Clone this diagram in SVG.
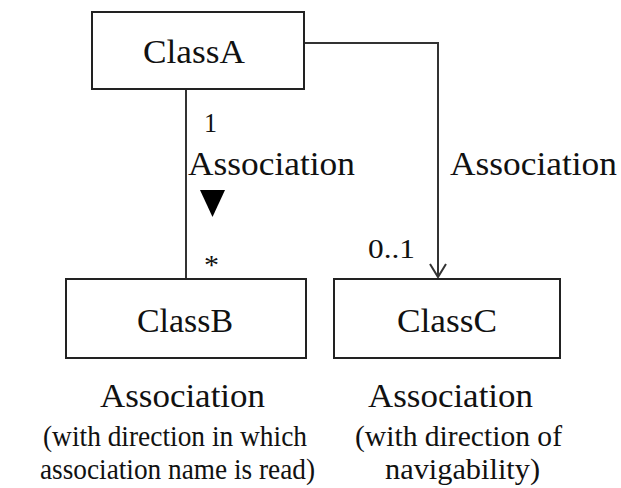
<svg xmlns="http://www.w3.org/2000/svg" width="621" height="488" viewBox="0 0 621 488">
  <style>
    .box { fill: #ffffff; stroke: #222222; stroke-width: 2; }
    .line { fill: none; stroke: #333333; stroke-width: 2; }
    text { font-family: "Liberation Serif", "Times New Roman", "DejaVu Serif", "Noto Serif", Tinos, serif; fill: #111111; }
    .name { font-size: 33px; }
    .lbl { font-size: 33px; }
    .mult { font-size: 28px; }
    .note { font-size: 29px; }
  </style>
  <defs>
    <!-- open arrowhead, drawn along +x so orient="auto" turns it with the line -->
    <marker id="open-arrow" markerWidth="16" markerHeight="20" refX="14" refY="9" orient="auto" markerUnits="userSpaceOnUse" viewBox="0 0 16 18">
      <path d="M1,1 L14,9 L1,17" fill="none" stroke="#333333" stroke-width="2"/>
    </marker>
  </defs>
  <rect width="621" height="488" fill="#ffffff"/>

  <g id="connectors">
    <!-- ClassA to ClassB association, read downward -->
    <line class="line" x1="186" y1="89" x2="186" y2="279"/>
    <!-- ClassA to ClassC navigable association -->
    <path class="line" d="M304,43 H438 V277" marker-end="url(#open-arrow)"/>
    <text class="mult" x="204" y="132" textLength="13" lengthAdjust="spacingAndGlyphs">1</text>
    <text class="lbl" x="188" y="175" textLength="167" lengthAdjust="spacingAndGlyphs">Association</text>
    <polygon points="200,190 225,190 212.5,217" fill="#000000"/>
    <text class="mult" x="204" y="274" font-size="24" textLength="15" lengthAdjust="spacingAndGlyphs">*</text>
    <text class="lbl" x="450" y="175" textLength="167" lengthAdjust="spacingAndGlyphs">Association</text>
    <text class="mult" x="368" y="258" textLength="47" lengthAdjust="spacingAndGlyphs">0..1</text>
  </g>

  <g id="classA">
    <rect class="box" x="92" y="12" width="212" height="77"/>
    <text class="name" x="143" y="63" textLength="102" lengthAdjust="spacingAndGlyphs">ClassA</text>
  </g>
  <g id="classB">
    <rect class="box" x="66" y="279" width="240" height="79"/>
    <text class="name" x="137" y="332" textLength="96" lengthAdjust="spacingAndGlyphs">ClassB</text>
  </g>
  <g id="classC">
    <rect class="box" x="334" y="279" width="226" height="79"/>
    <text class="name" x="397" y="332" textLength="100" lengthAdjust="spacingAndGlyphs">ClassC</text>
  </g>

  <g id="caption-left">
    <text class="name" x="100" y="407" textLength="165" lengthAdjust="spacingAndGlyphs">Association</text>
    <text class="note" x="43" y="446" textLength="264" lengthAdjust="spacingAndGlyphs">(with direction in which</text>
    <text class="note" x="40" y="479" textLength="275" lengthAdjust="spacingAndGlyphs">association name is read)</text>
  </g>
  <g id="caption-right">
    <text class="name" x="368" y="407" textLength="165" lengthAdjust="spacingAndGlyphs">Association</text>
    <text class="note" x="355" y="446" textLength="207" lengthAdjust="spacingAndGlyphs">(with direction of</text>
    <text class="note" x="385" y="479" textLength="155" lengthAdjust="spacingAndGlyphs">navigability)</text>
  </g>
</svg>
